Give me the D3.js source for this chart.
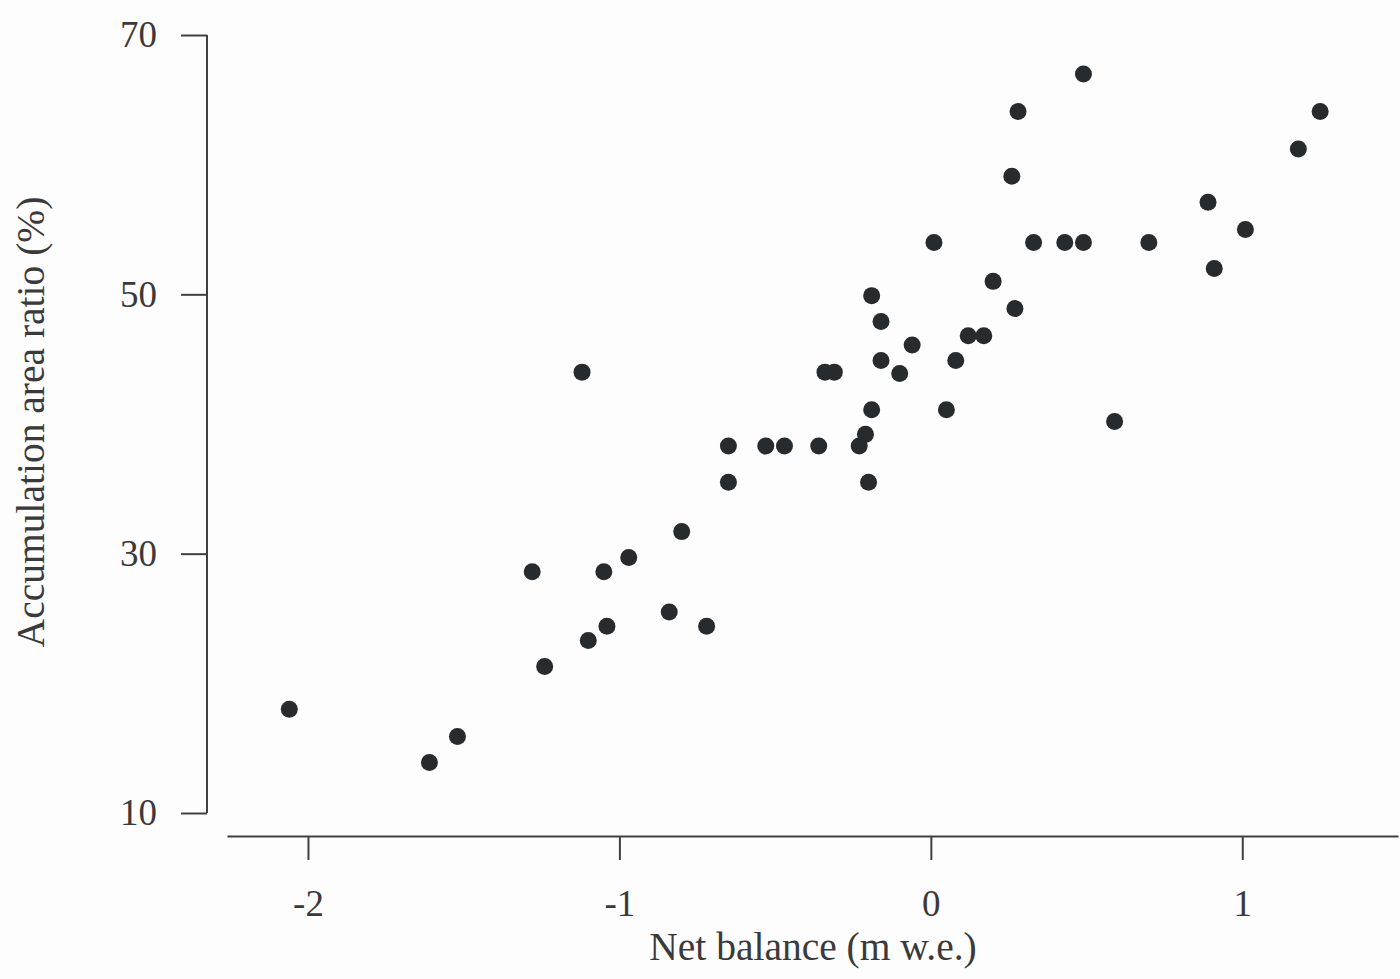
<!DOCTYPE html>
<html>
<head>
<meta charset="utf-8">
<script src="https://cdn.jsdelivr.net/npm/d3@7"></script>
<style>
  body { margin: 0; background: #fdfdfd; }
  svg { display: block; }
  .axis text { font-family: "Liberation Serif", "DejaVu Serif", serif; font-size: 37px; fill: #3a3a3a; }
  .axis path, .axis line { stroke: #404040; stroke-width: 2; }
  .title { font-family: "Liberation Serif", "DejaVu Serif", serif; font-size: 39.5px; fill: #3a3a3a; }
</style>
</head>
<body>
<svg width="1400" height="979"></svg>
<script>
// --- data ---
const netBalance = [
  -2.06, -1.61, -1.52, -1.28, -1.24, -1.12, -1.10, -1.05, -1.04, -0.97,
  -0.84, -0.80, -0.72, -0.65, -0.65, -0.53, -0.47, -0.36, -0.34, -0.31,
  -0.23, -0.21, -0.20, -0.19, -0.19, -0.16, -0.16, -0.10, -0.06, 0.01,
  0.05, 0.08, 0.12, 0.17, 0.20, 0.26, 0.27, 0.28, 0.33, 0.43,
  0.49, 0.49, 0.59, 0.70, 0.89, 0.91, 1.01, 1.18, 1.25
];
const aar = [
  18.0, 13.9, 15.9, 28.6, 21.3, 44.0, 23.3, 28.6, 24.4, 29.7,
  25.5, 31.7, 24.4, 38.3, 35.5, 38.3, 38.3, 38.3, 44.0, 44.0,
  38.3, 39.2, 35.5, 41.1, 49.9, 47.9, 44.9, 43.9, 46.1, 54.0,
  41.1, 44.9, 46.8, 46.8, 51.0, 59.1, 48.9, 64.1, 54.0, 54.0,
  67.0, 54.0, 40.2, 54.0, 57.1, 52.0, 55.0, 61.2, 64.1
];
const xTicks = [-2, -1, 0, 1];
const yTicks = [10, 30, 50, 70];

const svg = d3.select("svg");

const x = d3.scaleLinear().domain([-2.26, 1.5]).range([227, 1398]);
const y = d3.scaleLinear().domain([10, 70]).range([813, 35]);

// y axis (stands alone, offset left of the x axis start)
svg.append("g")
  .attr("class", "axis")
  .attr("transform", "translate(207,0)")
  .call(d3.axisLeft(y).tickValues(yTicks).tickSize(26).tickSizeOuter(0).tickPadding(24))
  .call(g => g.select(".domain").attr("d", `M0,${y(10)}V${y(70)}`));

// x axis
svg.append("g")
  .attr("class", "axis")
  .attr("transform", "translate(0,836)")
  .call(d3.axisBottom(x).tickValues(xTicks).tickSize(24).tickSizeOuter(0).tickPadding(30)
    .tickFormat(d3.format("d")))
  .call(g => g.selectAll(".tick text").text(d => d < 0 ? "-" + Math.abs(d) : d));

svg.selectAll("circle")
  .data(netBalance.map((v, i) => ({ x: v, y: aar[i] })))
  .join("circle")
  .attr("cx", d => x(d.x))
  .attr("cy", d => y(d.y))
  .attr("r", 8.5)
  .attr("fill", "#272b2d");

svg.append("text")
  .attr("class", "title")
  .attr("x", 813)
  .attr("y", 960)
  .attr("text-anchor", "middle")
  .text("Net balance (m w.e.)");

svg.append("text")
  .attr("class", "title")
  .attr("transform", "translate(44,422) rotate(-90)")
  .attr("text-anchor", "middle")
  .text("Accumulation area ratio (%)");
</script>
</body>
</html>
